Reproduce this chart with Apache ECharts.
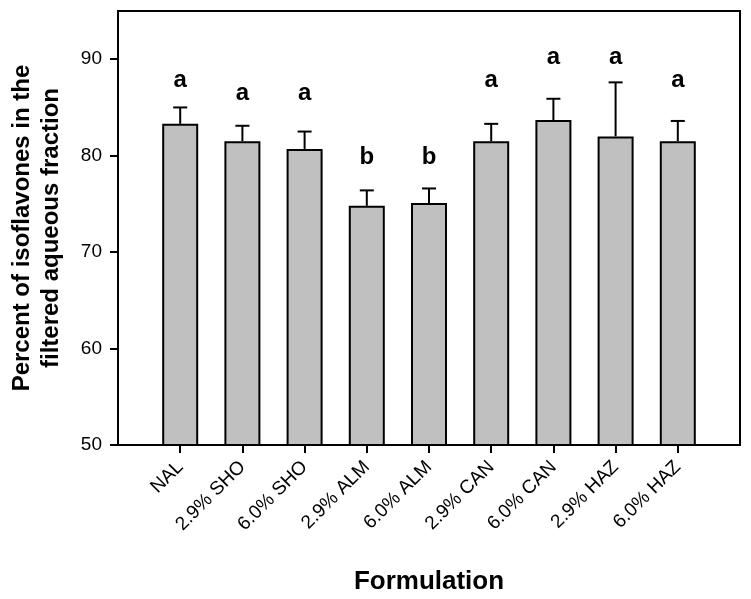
<!DOCTYPE html>
<html>
<head>
<meta charset="utf-8">
<script src="https://cdn.jsdelivr.net/npm/echarts@6/dist/echarts.min.js"></script>
<style>
html,body{margin:0;padding:0;background:#fff;}
#chart{width:751px;height:599px;}
</style>
</head>
<body>
<div id="chart"></div>
<script>
const categories = ['NAL', '2.9% SHO', '6.0% SHO', '2.9% ALM', '6.0% ALM', '2.9% CAN', '6.0% CAN', '2.9% HAZ', '6.0% HAZ'];
const means = [83.3, 81.5, 80.7, 74.8, 75.1, 81.5, 83.7, 82.0, 81.5];
const errTop = [85.0, 83.1, 82.5, 76.4, 76.6, 83.3, 85.9, 87.6, 83.6];
const letters = ['a', 'a', 'a', 'b', 'b', 'a', 'a', 'a', 'a'];
const letterPos = [87.8, 86.5, 86.5, 79.8, 79.8, 87.8, 90.2, 90.2, 87.8];
const yTicks = [50, 60, 70, 80, 90];

const FONT = '"Liberation Sans", Arial, Helvetica, sans-serif';
const idx = categories.map((c, i) => i);

const chart = echarts.init(document.getElementById('chart'), null, {renderer: 'canvas'});
chart.setOption({
  backgroundColor: '#fff',
  animation: false,
  grid: {left: 118, right: 11, top: 11, bottom: 154, containLabel: false, outerBoundsMode: 'none',
    show: true, borderColor: '#000', borderWidth: 2, backgroundColor: 'transparent'},
  xAxis: {
    type: 'value', min: -1, max: 9, interval: 1,
    name: 'Formulation', nameLocation: 'middle', nameGap: 124,
    nameTextStyle: {fontFamily: FONT, fontSize: 26, fontWeight: 'bold', color: '#000'},
    axisLine: {show: true, onZero: false, lineStyle: {color: '#000', width: 2}},
    axisTick: {show: true, length: 8, lineStyle: {color: '#000', width: 2}, customValues: idx},
    axisLabel: {show: true, rotate: 45, margin: 19, fontFamily: FONT, fontSize: 19, color: '#000',
      customValues: idx, formatter: v => categories[Math.round(v)] || ''},
    splitLine: {show: false}
  },
  yAxis: {
    type: 'value', min: 50, max: 95, interval: 10,
    name: 'Percent of isoflavones in the\nfiltered aqueous fraction', nameLocation: 'middle', nameGap: 52, nameRotate: 90,
    nameTextStyle: {fontFamily: FONT, fontSize: 24, fontWeight: 'bold', color: '#000', lineHeight: 29, align: 'center'},
    axisLine: {show: true, onZero: false, lineStyle: {color: '#000', width: 2}},
    axisTick: {show: true, length: 8, lineStyle: {color: '#000', width: 2}, customValues: yTicks},
    axisLabel: {fontFamily: FONT, fontSize: 19, color: '#000', margin: 16, customValues: yTicks},
    splitLine: {show: false}
  },
  series: [
    {
      type: 'custom',
      z: 1,
      renderItem: function (params, api) {
        const x = api.value(0);
        const top = api.coord([x, api.value(2)]);
        const base = api.coord([x, api.value(1)]);
        const hw = 7;
        return {
          type: 'group',
          children: [
            {type: 'line', shape: {x1: top[0], y1: top[1], x2: base[0], y2: base[1]}, style: {stroke: '#000', lineWidth: 2}},
            {type: 'line', shape: {x1: top[0] - hw, y1: top[1], x2: top[0] + hw, y2: top[1]}, style: {stroke: '#000', lineWidth: 2}}
          ]
        };
      },
      data: idx.map(i => [i, means[i], errTop[i]])
    },
    {
      type: 'bar',
      z: 2,
      barWidth: 36,
      itemStyle: {color: '#c0c0c0', borderColor: '#000', borderWidth: 2},
      data: idx.map(i => [i, means[i]])
    },
    {
      type: 'scatter',
      symbolSize: 0,
      z: 3,
      itemStyle: {opacity: 1, color: '#000'},
      label: {show: true, position: 'inside', opacity: 1, formatter: p => letters[p.dataIndex],
        fontFamily: FONT, fontSize: 24, fontWeight: 'bold', color: '#000'},
      data: idx.map(i => [i, letterPos[i]])
    }
  ]
});
</script>
</body>
</html>
